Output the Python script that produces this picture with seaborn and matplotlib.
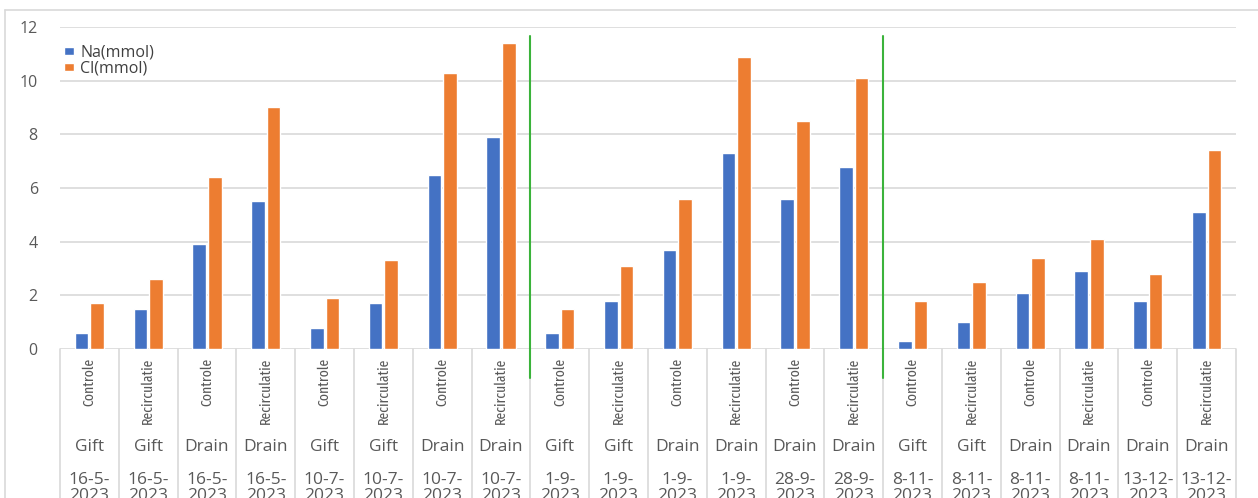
import matplotlib
matplotlib.use("Agg")
import matplotlib.pyplot as plt
import matplotlib.transforms as mtransforms
from matplotlib.lines import Line2D
import seaborn as sns
import pandas as pd

treatments = ["Controle", "Recirculatie"] * 10
types = ["Gift", "Gift", "Drain", "Drain",
         "Gift", "Gift", "Drain", "Drain",
         "Gift", "Gift", "Drain", "Drain",
         "Drain", "Drain",
         "Gift", "Gift", "Drain", "Drain",
         "Drain", "Drain"]
dates = ["16-5-\n2023"] * 4 + ["10-7-\n2023"] * 4 + ["1-9-\n2023"] * 4 + \
        ["28-9-\n2023"] * 2 + ["8-11-\n2023"] * 4 + ["13-12-\n2023"] * 2
na_vals = [0.6, 1.5, 3.9, 5.5, 0.8, 1.7, 6.5, 7.9, 0.6, 1.8,
           3.7, 7.3, 5.6, 6.8, 0.3, 1.0, 2.1, 2.9, 1.8, 5.1]
cl_vals = [1.7, 2.6, 6.4, 9.0, 1.9, 3.3, 10.3, 11.4, 1.5, 3.1,
           5.6, 10.9, 8.5, 10.1, 1.8, 2.5, 3.4, 4.1, 2.8, 7.4]
series = ["Na(mmol)", "Cl(mmol)"]
colors = ["#4472C4", "#ED7D31"]
separators = [7.5, 13.5]

n = len(na_vals)
df = pd.DataFrame({
    "cat": list(range(n)) * 2,
    "value": na_vals + cl_vals,
    "series": [series[0]] * n + [series[1]] * n,
})

sns.set_style("white")
plt.rcParams["font.family"] = ["Open Sans", "DejaVu Sans"]

fig = plt.figure(figsize=(12.58, 4.98), dpi=100)
W, H = 1258, 498
ax = fig.add_axes([60 / W, 1 - 349 / H, (1236 - 60) / W, (349 - 27) / H])

sns.barplot(data=df, x="cat", y="value", hue="series", order=list(range(n)),
            hue_order=series, palette=colors, width=0.53, gap=0.13,
            saturation=1, ax=ax, zorder=3)

ax.set_ylim(0, 12)
ax.set_xlim(-0.5, n - 0.5)
ax.set_yticks(range(0, 13, 2))
ax.yaxis.grid(True, color="#D9D9D9", linewidth=1.2, zorder=0)
for s in ax.spines.values():
    s.set_visible(False)
ax.tick_params(axis="y", length=0, labelsize=11.5, labelcolor="#595959", pad=16)
ax.set_xticks([])
ax.set_xlabel("")
ax.set_ylabel("")

trans = mtransforms.blended_transform_factory(ax.transData, ax.transAxes)
for i in range(n + 1):
    ax.plot([i - 0.5, i - 0.5], [0, -0.5], transform=trans, color="#D9D9D9",
            linewidth=1.2, clip_on=False, zorder=1)
for i in range(n):
    ax.text(i, -0.026, treatments[i], transform=trans, rotation=90,
            ha="center", va="top", fontsize=10.7, color="#595959",
            family=["Fira Sans Extra Condensed", "DejaVu Sans"])
    ax.text(i, -0.304, types[i], transform=trans, ha="center", va="center",
            fontsize=12.5, color="#595959")
    ax.text(i, -0.383, dates[i], transform=trans, ha="center", va="top",
            fontsize=12.5, color="#595959", linespacing=0.95)

for xs in separators:
    ax.plot([xs, xs], [11.65, -1.08], color="#3BB33B", linewidth=1.5,
            clip_on=False, zorder=4)

leg = ax.legend(loc="upper left", bbox_to_anchor=(-0.002, 0.966), frameon=False,
                fontsize=11.5, handlelength=0.65, handleheight=0.4,
                handletextpad=0.35, labelspacing=0.0, borderaxespad=0)
for t in leg.get_texts():
    t.set_color("#404040")

fig.add_artist(Line2D([5 / W, 5 / W], [0, 1 - 10 / H], color="#D9D9D9",
                      linewidth=1.2, transform=fig.transFigure))
fig.add_artist(Line2D([5 / W, 1], [1 - 10 / H, 1 - 10 / H], color="#D9D9D9",
                      linewidth=1.2, transform=fig.transFigure))

fig.savefig("out.png", dpi=100)
